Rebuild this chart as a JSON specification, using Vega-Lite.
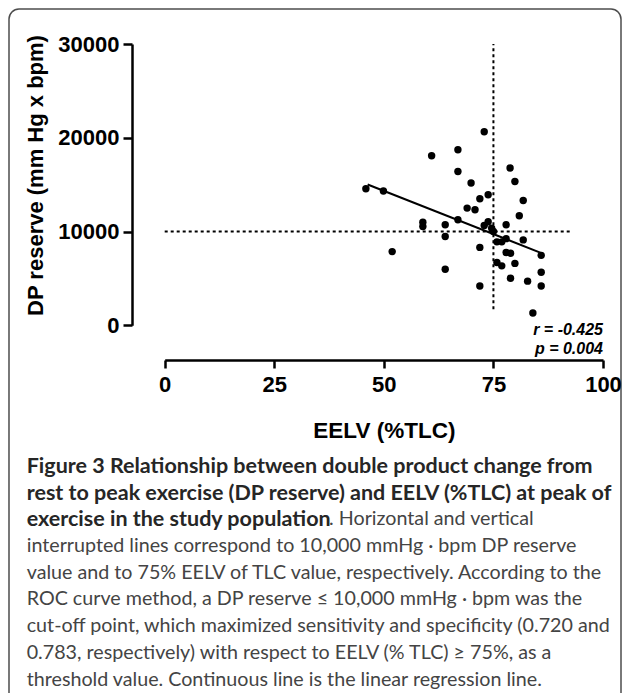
{
  "$schema": "https://vega.github.io/schema/vega-lite/v6.json",
  "width": 612,
  "height": 700,
  "autosize": {"type": "none"},
  "padding": {"left": 9, "top": 9, "right": 6, "bottom": 0},
  "background": "white",
  "config": {
    "view": {"stroke": "#4d4d4d", "strokeWidth": 1.5, "cornerRadius": 10},
    "font": "Liberation Sans"
  },
  "title": {
    "text": [
      "Figure 3 Relationship between double product change from",
      "rest to peak exercise (DP reserve) and EELV (%TLC) at peak of",
      "exercise in the study population"
    ],
    "subtitle": [
      "\u200b\u00a0\u00a0\u00a0\u00a0\u00a0\u00a0\u00a0\u00a0\u00a0\u00a0\u00a0\u00a0\u00a0\u00a0\u00a0\u00a0\u00a0\u00a0\u00a0\u00a0\u00a0\u00a0\u00a0\u00a0\u00a0\u00a0\u00a0\u00a0\u00a0\u00a0\u00a0\u00a0\u00a0\u00a0\u00a0\u00a0\u00a0\u00a0\u00a0\u00a0\u00a0\u00a0\u00a0\u00a0\u00a0\u00a0\u00a0\u00a0\u00a0\u00a0\u00a0\u00a0\u00a0\u00a0\u00a0\u00a0\u00a0\u00a0\u00a0\u00a0. Horizontal and vertical",
      "interrupted lines correspond to 10,000 mmHg · bpm DP reserve",
      "value and to 75% EELV of TLC value, respectively. According to the",
      "ROC curve method, a DP reserve ≤ 10,000 mmHg · bpm was the",
      "cut-off point, which maximized sensitivity and specificity (0.720 and",
      "0.783, respectively) with respect to EELV (% TLC) ≥ 75%, as a",
      "threshold value. Continuous line is the linear regression line."
    ],
    "orient": "bottom",
    "anchor": "start",
    "frame": "group",
    "offset": -253,
    "dx": 17.7,
    "font": "Lato",
    "fontSize": 21.5,
    "fontWeight": "bold",
    "color": "#262626",
    "lineHeight": 26.7,
    "subtitleFont": "Lato",
    "subtitleFontSize": 19.7,
    "subtitleFontWeight": "normal",
    "subtitleColor": "#444444",
    "subtitleLineHeight": 26.7,
    "subtitlePadding": -21.5
  },
  "datasets": {
    "points": [
      {"eelv": 45.9, "dp": 14560},
      {"eelv": 49.9, "dp": 14320},
      {"eelv": 51.9, "dp": 7860},
      {"eelv": 58.9, "dp": 11000},
      {"eelv": 58.9, "dp": 10530},
      {"eelv": 60.9, "dp": 18090},
      {"eelv": 64.0, "dp": 10720},
      {"eelv": 64.0, "dp": 9470},
      {"eelv": 64.0, "dp": 5980},
      {"eelv": 66.9, "dp": 18730},
      {"eelv": 66.9, "dp": 16410},
      {"eelv": 66.9, "dp": 11250},
      {"eelv": 69.0, "dp": 12500},
      {"eelv": 69.9, "dp": 15170},
      {"eelv": 70.8, "dp": 12320},
      {"eelv": 71.9, "dp": 13490},
      {"eelv": 71.9, "dp": 8310},
      {"eelv": 71.9, "dp": 4200},
      {"eelv": 72.9, "dp": 20650},
      {"eelv": 73.8, "dp": 13920},
      {"eelv": 72.9, "dp": 10640},
      {"eelv": 73.8, "dp": 11040},
      {"eelv": 74.6, "dp": 10360},
      {"eelv": 75.0, "dp": 10000},
      {"eelv": 75.8, "dp": 8900},
      {"eelv": 76.9, "dp": 8900},
      {"eelv": 77.9, "dp": 9240},
      {"eelv": 77.9, "dp": 10720},
      {"eelv": 78.8, "dp": 16770},
      {"eelv": 79.9, "dp": 15340},
      {"eelv": 80.9, "dp": 11680},
      {"eelv": 81.8, "dp": 13310},
      {"eelv": 81.8, "dp": 9110},
      {"eelv": 77.9, "dp": 7760},
      {"eelv": 78.9, "dp": 7690},
      {"eelv": 85.9, "dp": 7460},
      {"eelv": 75.8, "dp": 6690},
      {"eelv": 76.9, "dp": 6340},
      {"eelv": 79.9, "dp": 6600},
      {"eelv": 85.9, "dp": 5660},
      {"eelv": 78.9, "dp": 5020},
      {"eelv": 82.8, "dp": 4710},
      {"eelv": 85.9, "dp": 4200},
      {"eelv": 84.0, "dp": 1310}
    ],
    "fit": [
      {"eelv": 46.3, "dp": 15020},
      {"eelv": 86.4, "dp": 7620}
    ]
  },
  "layer": [
    {
      "data": {"name": "points"},
      "mark": {"type": "circle", "size": 55, "color": "black", "opacity": 1},
      "encoding": {
        "x": {
          "field": "eelv",
          "type": "quantitative",
          "scale": {"domain": [0, 100], "range": [155.7, 594], "nice": false, "zero": false},
          "axis": {
            "orient": "bottom",
            "offset": -349,
            "values": [0, 25, 50, 75, 100],
            "grid": false,
            "labelFlush": false,
            "labelOverlap": false,
            "labelFont": "Liberation Sans",
            "labelFontSize": 22,
            "labelFontWeight": "bold",
            "labelColor": "black",
            "labelPadding": 6,
            "tickSize": 8,
            "tickWidth": 2.5,
            "tickColor": "black",
            "domainColor": "black",
            "domainWidth": 2.5,
            "title": "EELV (%TLC)",
            "titleFont": "Liberation Sans",
            "titleFontSize": 22.5,
            "titleFontWeight": "bold",
            "titleColor": "black",
            "titlePadding": 24
          }
        },
        "y": {
          "field": "dp",
          "type": "quantitative",
          "scale": {"domain": [0, 30000], "range": [316.3, 35], "nice": false},
          "axis": {
            "orient": "left",
            "offset": -123,
            "values": [0, 10000, 20000, 30000],
            "format": "d",
            "grid": false,
            "labelFlush": false,
            "labelOverlap": false,
            "labelFont": "Liberation Sans",
            "labelFontSize": 22,
            "labelFontWeight": "bold",
            "labelColor": "black",
            "labelPadding": 4,
            "tickSize": 9,
            "tickWidth": 2.5,
            "tickColor": "black",
            "domainColor": "black",
            "domainWidth": 2.5,
            "title": "DP reserve (mm Hg x bpm)",
            "titleFont": "Liberation Sans",
            "titleFontSize": 22,
            "titleFontWeight": "bold",
            "titleColor": "black",
            "titleAngle": 270,
            "titleAlign": "center",
            "titleBaseline": "alphabetic",
            "titleX": -90,
            "titleY": 166
          }
        }
      }
    },
    {
      "data": {"values": [{}]},
      "mark": {"type": "rule", "strokeDash": [3, 3], "strokeWidth": 2, "color": "black"},
      "encoding": {
        "x": {"datum": 75, "type": "quantitative"},
        "y": {"datum": 1700, "type": "quantitative"},
        "y2": {"datum": 30000}
      }
    },
    {
      "data": {"values": [{}]},
      "mark": {"type": "rule", "strokeDash": [3, 3], "strokeWidth": 2, "color": "black"},
      "encoding": {
        "y": {"datum": 10000, "type": "quantitative"},
        "x": {"datum": 0, "type": "quantitative"},
        "x2": {"datum": 92.5}
      }
    },
    {
      "data": {"name": "fit"},
      "mark": {"type": "line", "color": "black", "strokeWidth": 2},
      "encoding": {
        "x": {"field": "eelv", "type": "quantitative"},
        "y": {"field": "dp", "type": "quantitative"}
      }
    },
    {
      "data": {"values": [{}]},
      "mark": {
        "type": "text",
        "align": "right",
        "baseline": "middle",
        "font": "Liberation Sans",
        "fontSize": 16,
        "fontWeight": "bold",
        "fontStyle": "italic",
        "lineHeight": 19,
        "dy": 5,
        "color": "black"
      },
      "encoding": {
        "x": {"datum": 100, "type": "quantitative"},
        "y": {"datum": 0, "type": "quantitative"},
        "text": {"value": ["r = -0.425", "p = 0.004"]}
      }
    }
  ]
}
